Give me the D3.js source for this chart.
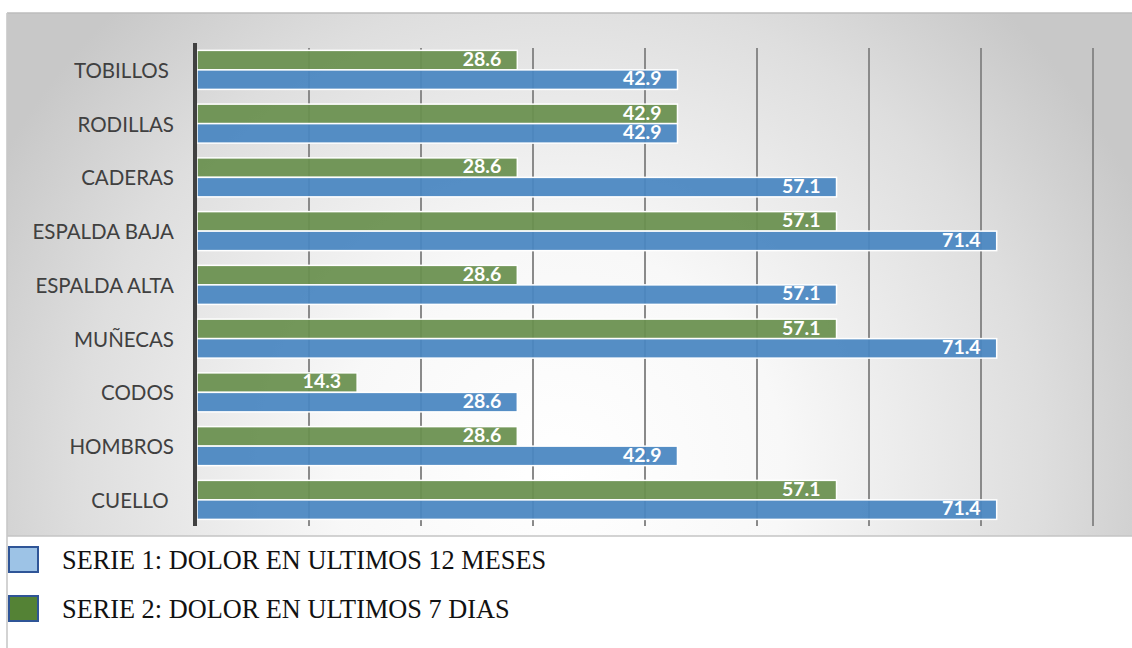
<!DOCTYPE html>
<html>
<head>
<meta charset="utf-8">
<script src="https://cdn.jsdelivr.net/npm/d3@7"></script>
<style>
  html, body { margin: 0; padding: 0; background: #ffffff; }
  svg { display: block; }
  .cat { white-space: pre; }
</style>
</head>
<body>
<svg id="chart" width="1132" height="648"></svg>
<script>
// Body regions, listed top to bottom
const categories = ["TOBILLOS ", "RODILLAS", "CADERAS", "ESPALDA BAJA", "ESPALDA ALTA",
                    "MUÑECAS", "CODOS", "HOMBROS", "CUELLO "];
// Serie 1: pain in the last 12 months (%)
const serie1 = [42.9, 42.9, 57.1, 71.4, 57.1, 71.4, 28.6, 42.9, 71.4];
// Serie 2: pain in the last 7 days (%)
const serie2 = [28.6, 42.9, 28.6, 57.1, 28.6, 57.1, 14.3, 28.6, 57.1];
const xTicks = [10, 20, 30, 40, 50, 60, 70, 80];
const legendLabels = ["SERIE 1: DOLOR EN ULTIMOS 12 MESES", "SERIE 2: DOLOR EN ULTIMOS 7 DIAS"];

const svg = d3.select("#chart");
const defs = svg.append("defs");

// Soft grey backdrop of the plot frame
const bg = defs.append("radialGradient").attr("id", "bgGrad")
  .attr("gradientUnits", "userSpaceOnUse")
  .attr("cx", 560).attr("cy", 470).attr("r", 640);
bg.append("stop").attr("offset", "0%").attr("stop-color", "#ffffff");
bg.append("stop").attr("offset", "35%").attr("stop-color", "#f8f8f8");
bg.append("stop").attr("offset", "75%").attr("stop-color", "#dedede");
bg.append("stop").attr("offset", "100%").attr("stop-color", "#c8c8c8");

const soft = defs.append("filter").attr("id", "soft")
  .attr("x", "-200%").attr("y", "-5%").attr("width", "500%").attr("height", "110%");
soft.append("feGaussianBlur").attr("stdDeviation", 0.9);

const frame = { left: 7, top: 13, right: 1132, bottom: 536 };

svg.append("rect")
  .attr("x", frame.left).attr("y", frame.top)
  .attr("width", frame.right - frame.left).attr("height", frame.bottom - frame.top)
  .attr("fill", "url(#bgGrad)");

// frame edges
svg.append("line").attr("x1", frame.left).attr("x2", frame.right)
  .attr("y1", frame.top).attr("y2", frame.top)
  .attr("stroke", "#bdbdbd").attr("stroke-width", 1.6);
svg.append("line").attr("x1", frame.left).attr("x2", frame.right)
  .attr("y1", frame.bottom).attr("y2", frame.bottom)
  .attr("stroke", "#c4c4c4").attr("stroke-width", 1.6);
svg.append("line").attr("x1", frame.left).attr("x2", frame.left)
  .attr("y1", frame.top).attr("y2", 648)
  .attr("stroke", "#c8c8c8").attr("stroke-width", 1.6);

// Scales
const x = d3.scaleLinear().domain([0, 80]).range([197, 1093]);
const y = d3.scaleBand().domain(categories).range([43, 526.75])
  .paddingInner(0.274).paddingOuter(0.137);
const ySub = d3.scaleBand().domain(["s2", "s1"]).range([0, y.bandwidth()]);

// Vertical gridlines
const grid = svg.append("g");
grid.selectAll("line.glow").data(xTicks).join("line")
  .attr("class", "glow")
  .attr("x1", d => x(d)).attr("x2", d => x(d))
  .attr("y1", 46).attr("y2", 527)
  .attr("stroke", "#a8a8a8").attr("stroke-width", 4)
  .attr("filter", "url(#soft)");
grid.selectAll("line.core").data(xTicks).join("line")
  .attr("class", "core")
  .attr("x1", d => x(d)).attr("x2", d => x(d))
  .attr("y1", 48).attr("y2", 526)
  .attr("stroke", "#8a8a8a").attr("stroke-width", 2);

// Bars
const rows = categories.map((c, i) => ({ cat: c, s1: serie1[i], s2: serie2[i] }));
const series = [
  { key: "s2", color: "#6a9150" },
  { key: "s1", color: "#4a87c1" }
];

const barG = svg.append("g");
series.forEach(s => {
  barG.selectAll("rect." + s.key).data(rows).join("rect")
    .attr("class", s.key)
    .attr("x", x(0))
    .attr("y", d => y(d.cat) + ySub(s.key))
    .attr("width", d => x(d[s.key]) - x(0))
    .attr("height", ySub.bandwidth())
    .attr("fill", s.color)
    .attr("fill-opacity", 0.94)
    .attr("stroke", "#ffffff")
    .attr("stroke-width", 1.5);
});

// Value labels inside bar ends
series.forEach(s => {
  barG.selectAll("text." + s.key).data(rows).join("text")
    .attr("class", s.key)
    .attr("x", d => x(d[s.key]) - 16)
    .attr("y", d => y(d.cat) + ySub(s.key) + 15.5)
    .attr("text-anchor", "end")
    .attr("font-family", "Lato, 'Open Sans', sans-serif")
    .attr("font-weight", "bold")
    .attr("font-size", 19.5)
    .attr("fill", "#ffffff")
    .text(d => d3.format(".1f")(d[s.key]));
});

// Category axis
const yAxis = svg.append("g");
yAxis.append("line")
  .attr("x1", 195).attr("x2", 195)
  .attr("y1", 43).attr("y2", 526)
  .attr("stroke", "#404040").attr("stroke-width", 4);
yAxis.selectAll("text").data(categories).join("text")
  .attr("class", "cat")
  .attr("x", 174)
  .attr("y", d => y(d) + y.bandwidth() / 2 + 8)
  .attr("text-anchor", "end")
  .attr("font-family", "Lato, 'Open Sans', sans-serif")
  .attr("font-size", 20.5)
  .attr("fill", "#404040")
  .text(d => d);

// Legend
const legendColors = [
  { fill: "#9dc3e6", stroke: "#2f5597" },
  { fill: "#548235", stroke: "#2f5597" }
];
const legend = svg.append("g");
const legendY = [547, 596];
legend.selectAll("rect").data(legendLabels).join("rect")
  .attr("x", 9).attr("y", (d, i) => legendY[i])
  .attr("width", 29).attr("height", 25)
  .attr("fill", (d, i) => legendColors[i].fill)
  .attr("stroke", (d, i) => legendColors[i].stroke)
  .attr("stroke-width", 2);
legend.selectAll("text").data(legendLabels).join("text")
  .attr("x", 62).attr("y", (d, i) => legendY[i] + 22)
  .attr("font-family", "'Liberation Serif', 'Times New Roman', serif")
  .attr("font-size", 26.3)
  .attr("fill", "#111111")
  .text(d => d);
</script>
</body>
</html>
